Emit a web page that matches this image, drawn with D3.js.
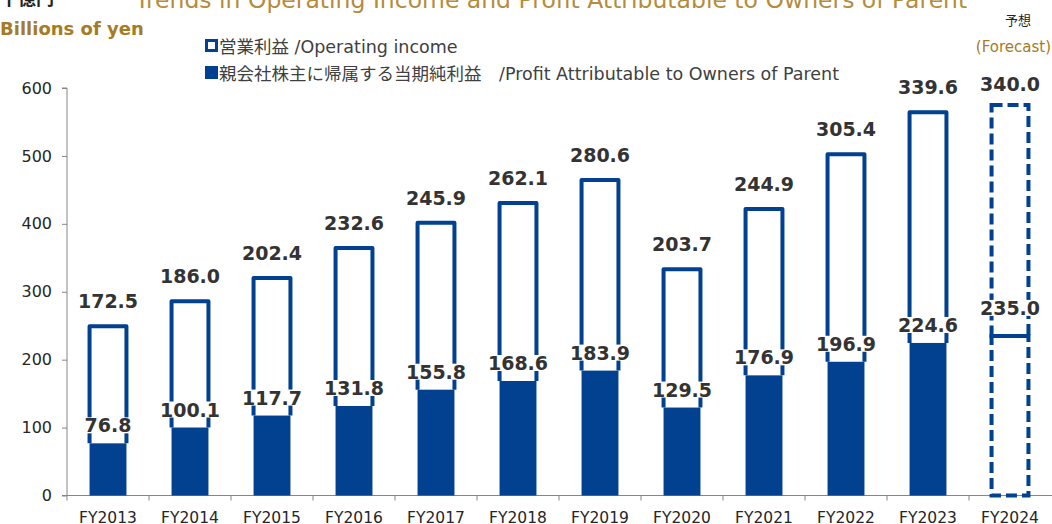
<!DOCTYPE html>
<html>
<head>
<meta charset="utf-8">
<script src="https://cdn.jsdelivr.net/npm/d3@7"></script>
<style>
  body { margin: 0; background: #fff; }
  svg { display: block; font-family: "DejaVu Sans", "Noto Sans CJK JP", sans-serif; }
</style>
</head>
<body>
<svg id="chart" width="1052" height="524"></svg>
<script>
// data
const years = ["FY2013","FY2014","FY2015","FY2016","FY2017","FY2018","FY2019","FY2020","FY2021","FY2022","FY2023","FY2024"];
const operatingIncome = [172.5,186.0,202.4,232.6,245.9,262.1,280.6,203.7,244.9,305.4,339.6,340.0];
const profitOwners = [76.8,100.1,117.7,131.8,155.8,168.6,183.9,129.5,176.9,196.9,224.6,235.0];
const forecastYear = "FY2024";
const yTicks = [0,100,200,300,400,500,600];

const blue = "#024190";
const gold = "#a67b26";
const svg = d3.select("#chart");

const data = years.map((y,i)=>({year:y, op:operatingIncome[i], profit:profitOwners[i], forecast:y===forecastYear}));

const x = d3.scaleBand().domain(years).range([67,1051]).padding(0);
const y = d3.scaleLinear().domain([0,600]).range([495.5,88]);
const barW = x.bandwidth()*0.45;
const bx = d => x(d.year) + (x.bandwidth()-barW)/2;

// titles
svg.append("text").attr("x",135).attr("y",8).attr("fill","#b48c3c").style("font-size","23.5px")
  .text("Trends in Operating Income and Profit Attributable to Owners of Parent");
svg.append("text").attr("x",0).attr("y",5).attr("fill","#222").style("font-size","18px").style("font-weight","bold")
  .text("十億円");
svg.append("text").attr("x",0).attr("y",35).attr("fill",gold).style("font-size","18px").style("font-weight","bold")
  .text("Billions of yen");
svg.append("text").attr("x",1018).attr("y",25).attr("text-anchor","middle").attr("fill","#222").style("font-size","13px")
  .text("予想");
svg.append("text").attr("x",1051).attr("y",52).attr("text-anchor","end").attr("fill",gold).style("font-size","15px")
  .text("(Forecast)");

// legend
const legend = svg.append("g").attr("transform","translate(205,0)");
legend.append("rect").attr("x",1.5).attr("y",40.5).attr("width",10).attr("height",10)
  .attr("fill","#fff").attr("stroke",blue).attr("stroke-width",3);
legend.append("text").attr("x",14).attr("y",53).attr("fill","#404040").style("font-size","17.5px")
  .text("営業利益 /Operating income");
legend.append("rect").attr("x",0).attr("y",66).attr("width",13).attr("height",13).attr("fill",blue);
legend.append("text").attr("x",14).attr("y",80).attr("fill","#404040").style("font-size","17.5px")
  .text("親会社株主に帰属する当期純利益　/Profit Attributable to Owners of Parent");

// axes
const yAxis = svg.append("g").attr("transform","translate(67,0)")
  .call(d3.axisLeft(y).tickValues(yTicks).tickSize(5).tickPadding(10).tickFormat(d3.format("d")));
yAxis.select(".domain").attr("stroke","#868686").attr("d",`M-5,${y(600)}H0V${y(0)}`);
yAxis.selectAll(".tick line").attr("stroke","#868686");
yAxis.selectAll(".tick text").attr("fill","#262626").style("font-size","16px").style("font-family","DejaVu Sans");

const xAxis = svg.append("g");
xAxis.append("line").attr("x1",62).attr("x2",1052).attr("y1",y(0)).attr("y2",y(0)).attr("stroke","#868686");
xAxis.selectAll(".xtick").data(years).join("line").attr("class","xtick")
  .attr("x1",d=>x(d)).attr("x2",d=>x(d)).attr("y1",y(0)).attr("y2",y(0)+5).attr("stroke","#868686");
xAxis.selectAll(".xlabel").data(years).join("text").attr("class","xlabel")
  .attr("x",d=>x(d)+x.bandwidth()/2).attr("y",y(0)+27).attr("text-anchor","middle")
  .attr("fill","#262626").style("font-size","15.5px").text(d=>d);

// bars
const bars = svg.append("g");
bars.selectAll(".profit").data(data.filter(d=>!d.forecast)).join("rect").attr("class","profit")
  .attr("x",bx).attr("width",barW).attr("y",d=>y(d.profit)).attr("height",d=>y(0)-y(d.profit))
  .attr("fill",blue);
bars.selectAll(".op").data(data.filter(d=>!d.forecast)).join("path").attr("class","op")
  .attr("d",d=>`M${bx(d)},${y(d.profit)}V${y(d.profit+d.op)}H${bx(d)+barW}V${y(d.profit)}`)
  .attr("fill","none").attr("stroke",blue).attr("stroke-width",4).attr("stroke-linejoin","round");

// forecast: dashed outlines only
const fc = data.filter(d=>d.forecast);
bars.selectAll(".fc-profit").data(fc).join("rect").attr("class","fc-profit")
  .attr("x",bx).attr("width",barW).attr("y",d=>y(d.profit)).attr("height",d=>y(0)-y(d.profit))
  .attr("fill","none").attr("stroke",blue).attr("stroke-width",4).attr("stroke-dasharray","11,5");
bars.selectAll(".fc-op").data(fc).join("rect").attr("class","fc-op")
  .attr("x",bx).attr("width",barW).attr("y",d=>y(d.profit+d.op)).attr("height",d=>y(d.profit)-y(d.profit+d.op))
  .attr("fill","none").attr("stroke",blue).attr("stroke-width",4).attr("stroke-dasharray","11,5");

// value labels
const labels = svg.append("g");
function addLabel(cx, baseline, txt){
  const g = labels.append("g");
  const r = g.append("rect").attr("fill","#fff");
  const t = g.append("text").attr("x",cx).attr("y",baseline).attr("text-anchor","middle")
    .attr("fill","#333").style("font-size","19px").style("font-weight","bold").text(txt);
  const b = t.node().getBBox();
  r.attr("x",b.x-1).attr("y",b.y+3).attr("width",b.width+2).attr("height",b.height-6);
}
data.forEach(d=>{
  const cx = x(d.year)+x.bandwidth()/2;
  addLabel(cx, y(d.profit+d.op)-(d.forecast ? 14 : 18), d.op.toFixed(1));
  addLabel(cx, y(d.profit)-(d.forecast ? 21 : 11), d.profit.toFixed(1));
});
</script>
</body>
</html>
